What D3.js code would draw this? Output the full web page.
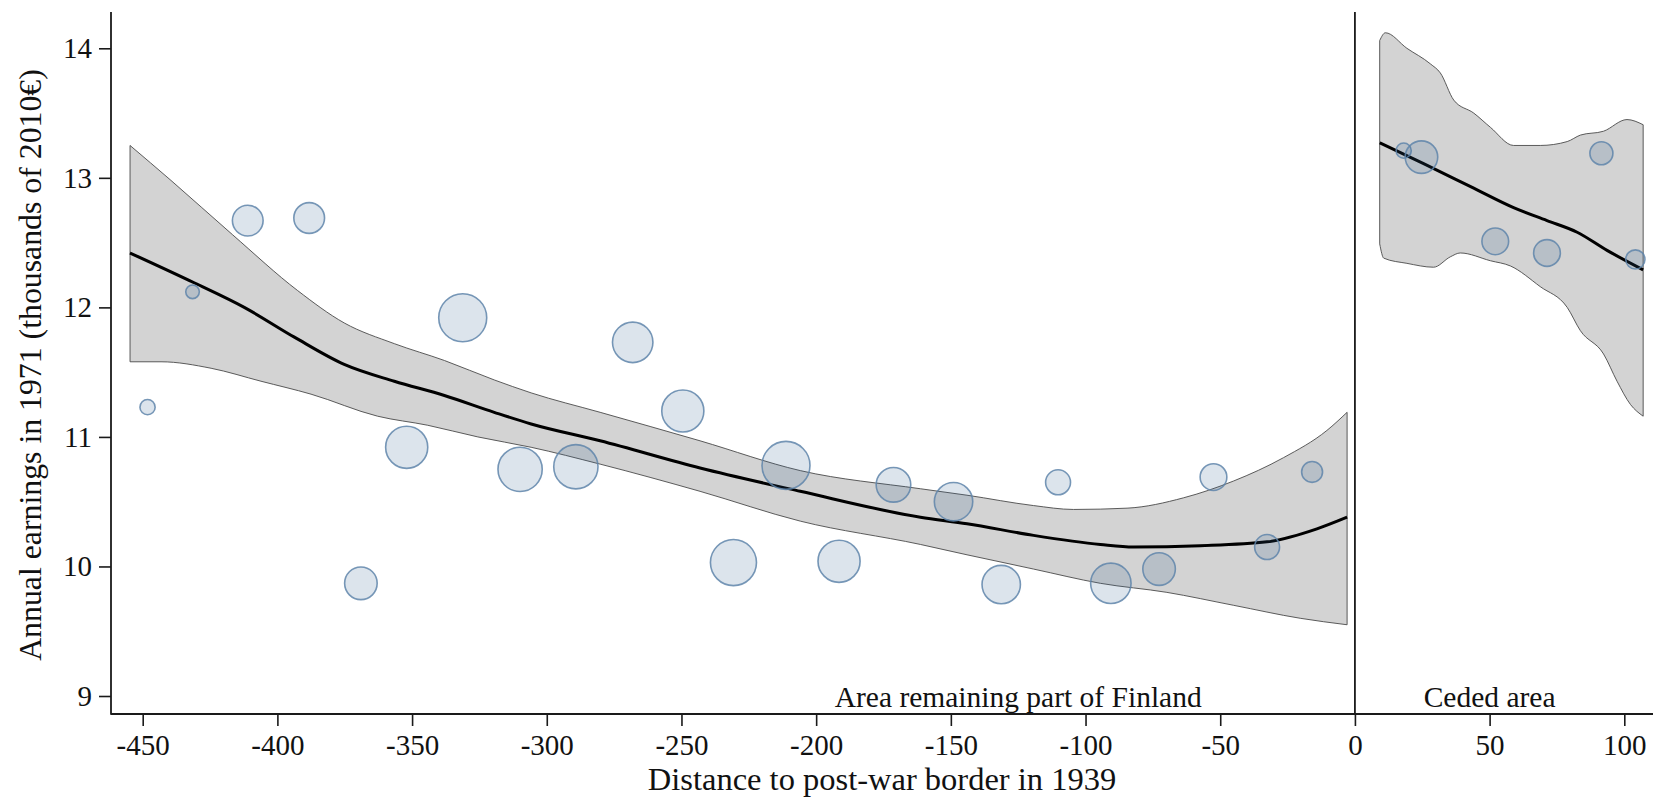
<!DOCTYPE html>
<html>
<head>
<meta charset="utf-8">
<script src="https://cdn.jsdelivr.net/npm/d3@7"></script>
<style>
  body { margin: 0; background: #fff; }
  svg { display: block; }
  text { font-family: "Liberation Serif", "Times New Roman", serif; fill: #111; }
</style>
</head>
<body>
<svg id="chart" width="1653" height="797"></svg>
<script>
// Municipality means: distance to the post-war border (km, 1939) and annual earnings in 1971
const remainDist = [-448.2, -431.5, -411.0, -388.2, -369.0, -352.0, -331.2, -309.9, -289.2, -268.1, -249.5, -230.7,
                    -211.2, -191.5, -171.3, -149.0, -131.3, -110.2, -90.6, -72.7, -52.5, -32.6, -15.9];
const remainEarn = [11.23, 12.12, 12.67, 12.69, 9.87, 10.92, 11.92, 10.75, 10.77, 11.73, 11.20, 10.03,
                    10.78, 10.04, 10.63, 10.50, 9.86, 10.65, 9.87, 9.98, 10.69, 10.15, 10.73];
const remainWeight = [10, 8, 41, 41, 46, 77, 100, 85, 85, 71, 77, 92,
                      100, 77, 52, 64, 64, 27, 71, 46, 31, 27, 19];

const cededDist = [18.1, 24.7, 52.1, 71.3, 91.5, 104.1];
const cededEarn = [13.21, 13.16, 12.51, 12.42, 13.19, 12.37];
const cededWeight = [10, 46, 31, 31, 23, 16];

// Local polynomial fit, remaining part of Finland
const fitRemainX = [-454.7, -430.9, -412.3, -393.7, -375.2, -356.6, -338.0, -319.5, -305.8, -280.2, -243.1,
                    -205.9, -161.3, -144.0, -119.3, -94.5, -82.2, -57.4, -32.6, -14.1, -2.9];
const fitRemainY = [12.42, 12.19, 12.00, 11.77, 11.56, 11.43, 11.32, 11.19, 11.10, 10.97, 10.76,
                    10.58, 10.38, 10.33, 10.24, 10.17, 10.15, 10.16, 10.19, 10.29, 10.38];
// 95% confidence band, upper and lower limits
const ciRemainHiX = [-454.7, -439.5, -416.6, -392.5, -375.2, -356.6, -338.0, -319.5, -305.8,
                     -280.2, -243.1, -205.9, -161.3, -144.0, -119.3, -104.5, -84.6, -63.6, -45.0, -26.5, -10.4, -2.9];
const ciRemainHiY = [13.25, 12.98, 12.56, 12.13, 11.88, 11.72, 11.59, 11.44, 11.34,
                     11.19, 10.97, 10.74, 10.60, 10.55, 10.47, 10.44, 10.45, 10.53, 10.66, 10.84, 11.05, 11.19];
const ciRemainLoX = [-454.7, -443.2, -424.6, -406.1, -387.5, -362.8, -344.2, -325.6, -305.8, -280.2, -243.1,
                     -205.9, -161.3, -144.0, -119.3, -94.5, -69.8, -45.0, -20.3, -2.9];
const ciRemainLoY = [11.58, 11.58, 11.53, 11.43, 11.33, 11.16, 11.09, 11.00, 10.92, 10.79, 10.58,
                     10.35, 10.17, 10.09, 9.98, 9.87, 9.80, 9.70, 9.60, 9.55];

// Local polynomial fit, ceded area
const fitCededX = [9.2, 25.5, 44.1, 58.9, 71.3, 82.5, 93.6, 107.0];
const fitCededY = [13.27, 13.11, 12.92, 12.77, 12.67, 12.58, 12.44, 12.29];
const ciCededHiX = [9.2, 11.3, 19.3, 28.0, 31.7, 36.7, 44.1, 50.3, 58.9, 68.8, 78.8, 83.7, 92.3, 101.0, 107.0];
const ciCededHiY = [14.06, 14.12, 14.00, 13.88, 13.81, 13.60, 13.50, 13.39, 13.25, 13.25, 13.28, 13.33, 13.36, 13.45, 13.41];
const ciCededLoX = [9.2, 10.7, 19.3, 29.2, 35.4, 39.1, 50.3, 57.7, 68.8, 78.8, 83.7, 92.3, 97.3, 102.3, 107.0];
const ciCededLoY = [12.49, 12.38, 12.34, 12.31, 12.39, 12.42, 12.36, 12.32, 12.16, 12.00, 11.82, 11.64, 11.43, 11.25, 11.16];

const xTicks = [-450, -400, -350, -300, -250, -200, -150, -100, -50, 0, 50, 100];
const yTicks = [9, 10, 11, 12, 13, 14];
const xTitle = "Distance to post-war border in 1939";
const yTitle = "Annual earnings in 1971 (thousands of 2010€)";
const sideLabels = [{x: -125, text: "Area remaining part of Finland"}, {x: 50, text: "Ceded area"}];

const svg = d3.select("#chart");
const W = 1653, H = 797;
const plotLeft = 111, plotTop = 12, plotBottom = 714;

const x = d3.scaleLinear().domain([-450, 100]).range([142.7, 1624.3]);
const y = d3.scaleLinear().domain([9, 14]).range([696, 48.3]);
const r = d3.scaleSqrt().domain([0, 100]).range([0, 24]);

const zip = (xs, ys) => xs.map((v, i) => [x(v), y(ys[i])]);
const smooth = d3.line().curve(d3.curveMonotoneX);

function bandPath(hx, hy, lx, ly) {
  const upper = smooth(zip(hx, hy));
  const lower = smooth(zip(lx, ly).reverse());
  return upper + "L" + lower.slice(1) + "Z";
}

// Confidence bands
const bands = svg.append("g");
[[ciRemainHiX, ciRemainHiY, ciRemainLoX, ciRemainLoY], [ciCededHiX, ciCededHiY, ciCededLoX, ciCededLoY]]
  .forEach(b => {
    bands.append("path")
      .attr("d", bandPath(...b))
      .attr("fill", "#d3d3d3")
      .attr("stroke", "#4a4a4a")
      .attr("stroke-width", 0.9);
  });

// Fitted lines
[[fitRemainX, fitRemainY], [fitCededX, fitCededY]].forEach(([fx, fy]) => {
  svg.append("path")
    .attr("d", smooth(zip(fx, fy)))
    .attr("fill", "none")
    .attr("stroke", "#000")
    .attr("stroke-width", 3);
});

// Weighted scatter markers
const pts = remainDist.map((d, i) => ({d, e: remainEarn[i], w: remainWeight[i]}))
  .concat(cededDist.map((d, i) => ({d, e: cededEarn[i], w: cededWeight[i]})));
svg.append("g").selectAll("circle").data(pts).join("circle")
  .attr("cx", p => x(p.d))
  .attr("cy", p => y(p.e))
  .attr("r", p => r(p.w))
  .attr("fill", "rgb(49,96,143)")
  .attr("fill-opacity", 0.17)
  .attr("stroke", "#5f85aa")
  .attr("stroke-opacity", 0.85)
  .attr("stroke-width", 1.6);

// Axes
const axisColor = "#1a1a1a";
const yAxis = svg.append("g").attr("transform", `translate(${plotLeft},0)`)
  .call(d3.axisLeft(y).tickValues(yTicks).tickSize(12).tickPadding(7).tickFormat(d3.format("d")));
yAxis.select(".domain").remove();
yAxis.selectAll("line").attr("stroke", axisColor).attr("stroke-width", 1.6);
yAxis.selectAll("text").attr("font-size", 29).attr("font-family", null).attr("fill", "#111");

const xAxis = svg.append("g").attr("transform", `translate(0,${plotBottom})`)
  .call(d3.axisBottom(x).tickValues(xTicks).tickSize(12).tickPadding(8).tickFormat(d3.format("d")));
xAxis.select(".domain").remove();
xAxis.selectAll("line").attr("stroke", axisColor).attr("stroke-width", 1.6);
xAxis.selectAll("text").attr("font-size", 29).attr("font-family", null).attr("fill", "#111")
  .text(d => d < 0 ? "-" + Math.abs(d) : d);

svg.append("line").attr("x1", plotLeft).attr("x2", plotLeft).attr("y1", plotTop).attr("y2", plotBottom + 0.8)
  .attr("stroke", axisColor).attr("stroke-width", 1.8);
svg.append("line").attr("x1", plotLeft).attr("x2", W).attr("y1", plotBottom).attr("y2", plotBottom)
  .attr("stroke", axisColor).attr("stroke-width", 1.8);
// Post-war border
svg.append("line").attr("x1", x(0)).attr("x2", x(0)).attr("y1", plotTop).attr("y2", plotBottom)
  .attr("stroke", axisColor).attr("stroke-width", 1.8);

// Region labels
svg.append("g").selectAll("text").data(sideLabels).join("text")
  .attr("x", d => x(d.x)).attr("y", 707)
  .attr("text-anchor", "middle").attr("font-size", 29.5)
  .text(d => d.text);

// Axis titles
svg.append("text").attr("x", (plotLeft + W) / 2).attr("y", 790)
  .attr("text-anchor", "middle").attr("font-size", 32.5).text(xTitle);
svg.append("text").attr("transform", `translate(40.5,${(plotTop + plotBottom) / 2 + 2}) rotate(-90)`)
  .attr("text-anchor", "middle").attr("font-size", 31.8).text(yTitle);
</script>
</body>
</html>
